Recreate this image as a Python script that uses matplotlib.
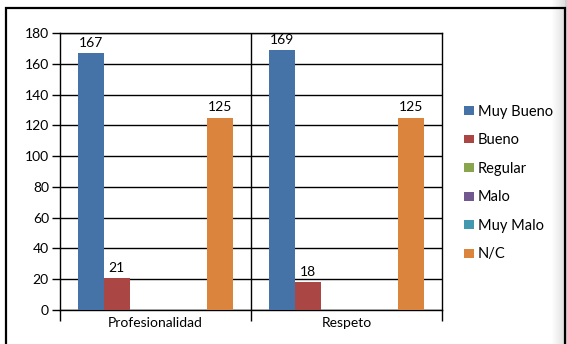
import matplotlib
matplotlib.use("Agg")
import matplotlib.pyplot as plt
import numpy as np
from matplotlib.patches import Rectangle

plt.rcParams["font.family"] = ["Lato", "DejaVu Sans"]

CATEGORIES = ["Profesionalidad", "Respeto"]
SERIES = ["Muy Bueno", "Bueno", "Regular", "Malo", "Muy Malo", "N/C"]
VALUES = {
    "Muy Bueno": [167, 169],
    "Bueno": [21, 18],
    "Regular": [0, 0],
    "Malo": [0, 0],
    "Muy Malo": [0, 0],
    "N/C": [125, 125],
}
COLORS = ["#4572A7", "#AA4643", "#89A54E", "#71588F", "#4198AF", "#DB843D"]
Y_TICKS = list(range(0, 181, 20))

fig = plt.figure(figsize=(5.67, 3.44), dpi=100)
fig.patch.set_facecolor("white")

# soft grey shading towards the right edge, then the black outer frame
shade = np.linspace(1.0, 0.88, 14)
for k, g in enumerate(shade):
    fig.patches.append(Rectangle(((551 + k) / 567, 0), 1 / 567, 1, transform=fig.transFigure,
                                 facecolor=(g, g, g), edgecolor="none", zorder=0))
fig.patches.append(Rectangle((565 / 567, 0), 2 / 567, 1, transform=fig.transFigure,
                             facecolor="#d0d0d0", edgecolor="none", zorder=0))
fig.patches.append(Rectangle((6 / 567, -0.01), 559 / 567, 1 - 8 / 344 + 0.01,
                             transform=fig.transFigure, facecolor="none",
                             edgecolor="black", linewidth=1.6, zorder=5))

ax = fig.add_axes([60 / 567, 1 - 310 / 344, 382 / 567, 277 / 344])

xpos = np.arange(len(CATEGORIES))
width = 1 / 7.4
for i, (name, color) in enumerate(zip(SERIES, COLORS)):
    vals = VALUES[name]
    offs = (i - 2.5) * width
    ax.bar(xpos + offs, vals, width, color=color, zorder=3, label=name)
    for x, v in zip(xpos + offs, vals):
        if v > 0:
            ax.annotate(f"{v}", (x, v), xytext=(0, 3), textcoords="offset points",
                        ha="center", va="bottom", fontsize=10, zorder=4)

ax.set_xlim(-0.5, len(CATEGORIES) - 0.5)
ax.set_ylim(0, 180)
ax.set_yticks(Y_TICKS)
ax.tick_params(axis="y", length=6, width=1, labelsize=10, pad=2)
ax.grid(axis="y", color="black", linewidth=1, zorder=1)
ax.axvline(0.5, color="black", linewidth=1, zorder=1)

ax.set_xticks(np.arange(-0.5, len(CATEGORIES), 1.0))
ax.set_xticklabels([])
ax.set_xticks(xpos, minor=True)
ax.set_xticklabels(CATEGORIES, minor=True, fontsize=10)
ax.tick_params(axis="x", which="major", length=8, width=1)
ax.tick_params(axis="x", which="minor", length=0, pad=5)

for side in ("left", "right", "bottom", "top"):
    ax.spines[side].set_color("black")
    ax.spines[side].set_linewidth(1)

fig.legend(loc="center left", bbox_to_anchor=(464 / 567, 1 - 183 / 344),
           frameon=False, fontsize=10.5, handlelength=0.7, handleheight=0.55,
           handletextpad=0.25, labelspacing=1.0, borderpad=0, borderaxespad=0)

fig.savefig("out.png", dpi=100)
